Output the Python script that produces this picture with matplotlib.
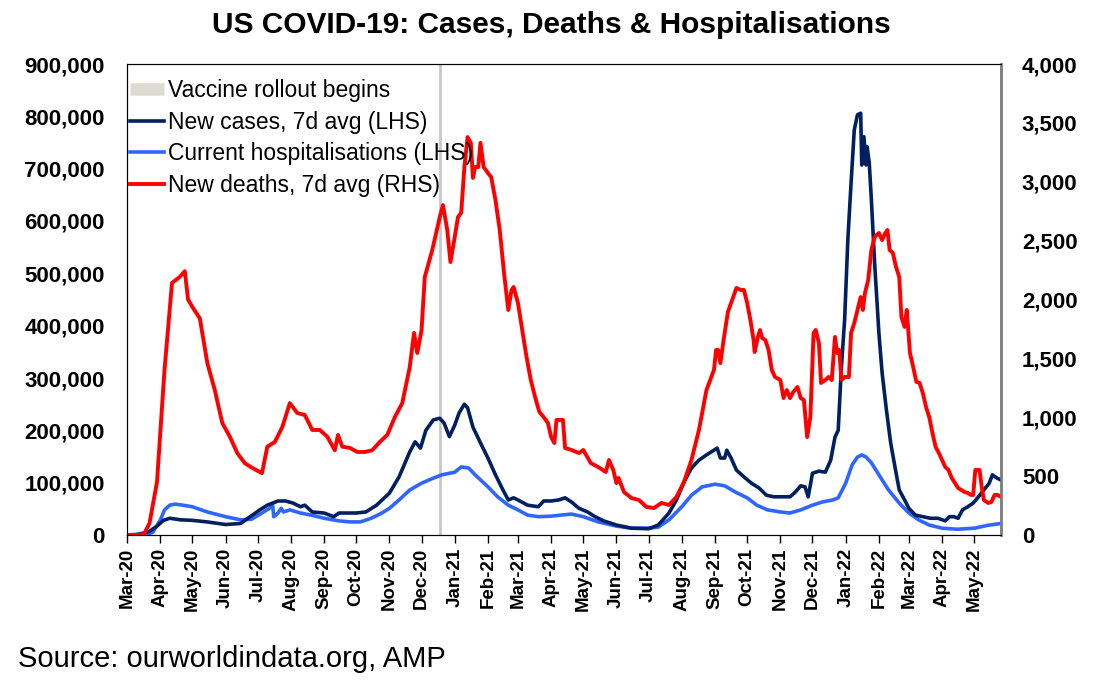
import matplotlib

matplotlib.use('Agg')
import matplotlib.pyplot as plt
import matplotlib.dates as mdates
import matplotlib.ticker as mticker
from matplotlib.lines import Line2D
import pandas as pd

plt.rcParams['font.family'] = ['Liberation Sans', 'DejaVu Sans']

# New cases, 7d avg (LHS)
case_dates = [
    '2020-03-01', '2020-03-10', '2020-03-15', '2020-03-22', '2020-03-29', '2020-04-04', '2020-04-10',
    '2020-04-20', '2020-05-01', '2020-05-15', '2020-06-01', '2020-06-15', '2020-06-26', '2020-07-03',
    '2020-07-10', '2020-07-20', '2020-07-27', '2020-08-03', '2020-08-10', '2020-08-14', '2020-08-21',
    '2020-09-01', '2020-09-10', '2020-09-15', '2020-09-20', '2020-10-01', '2020-10-10', '2020-10-20',
    '2020-11-01', '2020-11-10', '2020-11-20', '2020-11-25', '2020-11-30', '2020-12-05', '2020-12-12',
    '2020-12-18', '2020-12-22', '2020-12-27', '2021-01-01', '2021-01-05', '2021-01-10', '2021-01-13',
    '2021-01-18', '2021-01-25', '2021-02-01', '2021-02-08', '2021-02-15', '2021-02-20', '2021-02-25',
    '2021-03-01', '2021-03-10', '2021-03-20', '2021-03-25', '2021-04-01', '2021-04-08', '2021-04-14',
    '2021-04-20', '2021-04-27', '2021-05-05', '2021-05-12', '2021-05-20', '2021-06-01', '2021-06-15',
    '2021-07-01', '2021-07-10', '2021-07-20', '2021-07-27', '2021-08-03', '2021-08-10', '2021-08-17',
    '2021-08-24', '2021-08-31', '2021-09-03', '2021-09-06', '2021-09-10', '2021-09-12', '2021-09-16',
    '2021-09-21', '2021-09-28', '2021-10-05', '2021-10-12', '2021-10-19', '2021-10-26', '2021-11-01',
    '2021-11-10', '2021-11-15', '2021-11-20', '2021-11-24', '2021-11-27', '2021-12-01', '2021-12-07',
    '2021-12-13', '2021-12-18', '2021-12-22', '2021-12-25', '2021-12-28', '2021-12-31', '2022-01-03',
    '2022-01-06', '2022-01-09', '2022-01-12', '2022-01-15', '2022-01-16', '2022-01-18', '2022-01-20',
    '2022-01-21', '2022-01-23', '2022-01-25', '2022-01-28', '2022-02-01', '2022-02-04', '2022-02-08',
    '2022-02-12', '2022-02-16', '2022-02-20', '2022-02-25', '2022-03-01', '2022-03-07', '2022-03-14',
    '2022-03-21', '2022-03-28', '2022-04-04', '2022-04-08', '2022-04-12', '2022-04-16', '2022-04-20',
    '2022-04-25', '2022-04-30', '2022-05-05', '2022-05-10', '2022-05-15', '2022-05-18', '2022-05-22',
    '2022-05-26',
]
cases = [
    0, 1000, 3000, 7000, 17000, 28000, 32000,
    29000, 28000, 25000, 20000, 22000, 38000, 48000,
    57000, 65000, 65000, 61000, 54000, 57000, 44000,
    42000, 35000, 42000, 42000, 42000, 44000, 57000,
    80000, 111000, 159000, 178000, 166000, 200000, 220000,
    223000, 214000, 188000, 210000, 233000, 250000, 243000,
    206000, 176000, 147000, 115000, 86000, 67000, 71000,
    67000, 57000, 54000, 65000, 65000, 67000, 71000,
    63000, 51000, 44000, 35000, 27000, 19000, 13000,
    12000, 19000, 42000, 67000, 101000, 128000, 143000,
    153000, 162000, 166000, 147000, 147000, 162000, 147000,
    124000, 111000, 99000, 90000, 76000, 73000, 73000,
    73000, 82000, 94000, 92000, 73000, 118000, 122000,
    120000, 143000, 187000, 200000, 321000, 411000, 564000,
    672000, 774000, 803000, 806000, 707000, 761000, 707000,
    742000, 711000, 640000, 520000, 386000, 310000, 239000,
    176000, 130000, 86000, 67000, 51000, 38000, 35000,
    32000, 32000, 27000, 35000, 35000, 32000, 48000,
    54000, 61000, 73000, 86000, 99000, 115000, 109000,
    105000,
]

# Current hospitalisations (LHS)
hosp_dates = [
    '2020-03-01', '2020-03-18', '2020-03-25', '2020-04-01', '2020-04-05', '2020-04-10', '2020-04-15',
    '2020-04-22', '2020-05-01', '2020-05-15', '2020-06-01', '2020-06-15', '2020-06-25', '2020-07-05',
    '2020-07-12', '2020-07-15', '2020-07-16', '2020-07-20', '2020-07-23', '2020-07-25', '2020-07-31',
    '2020-08-10', '2020-08-20', '2020-09-01', '2020-09-15', '2020-09-25', '2020-10-05', '2020-10-15',
    '2020-10-25', '2020-11-01', '2020-11-10', '2020-11-20', '2020-12-01', '2020-12-10', '2020-12-20',
    '2021-01-01', '2021-01-07', '2021-01-14', '2021-01-20', '2021-02-01', '2021-02-10', '2021-02-20',
    '2021-03-01', '2021-03-10', '2021-03-20', '2021-04-01', '2021-04-10', '2021-04-20', '2021-05-01',
    '2021-05-15', '2021-06-01', '2021-06-15', '2021-07-01', '2021-07-10', '2021-07-20', '2021-08-01',
    '2021-08-10', '2021-08-20', '2021-09-01', '2021-09-10', '2021-09-20', '2021-10-01', '2021-10-10',
    '2021-10-20', '2021-11-01', '2021-11-10', '2021-11-20', '2021-12-01', '2021-12-10', '2021-12-20',
    '2021-12-25', '2022-01-01', '2022-01-07', '2022-01-12', '2022-01-16', '2022-01-20', '2022-01-25',
    '2022-02-01', '2022-02-10', '2022-02-20', '2022-03-01', '2022-03-10', '2022-03-20', '2022-04-01',
    '2022-04-15', '2022-05-01', '2022-05-15', '2022-05-26',
]
hosp = [
    0, 0, 5000, 28000, 48000, 57000, 59000,
    57000, 54000, 44000, 35000, 29000, 30000, 42000,
    51000, 57000, 35000, 42000, 51000, 44000, 48000,
    42000, 38000, 32000, 27000, 25000, 25000, 32000,
    42000, 51000, 67000, 86000, 99000, 107000, 115000,
    120000, 130000, 128000, 115000, 92000, 73000, 57000,
    48000, 38000, 35000, 36000, 38000, 40000, 35000,
    25000, 17000, 13000, 13000, 15000, 29000, 54000,
    76000, 92000, 97000, 94000, 82000, 71000, 57000,
    48000, 44000, 42000, 48000, 57000, 63000, 67000,
    71000, 99000, 134000, 149000, 153000, 149000, 138000,
    115000, 86000, 61000, 42000, 29000, 19000, 13000,
    11000, 13000, 19000, 22000,
]

# New deaths, 7d avg (RHS)
death_dates = [
    '2020-03-01', '2020-03-12', '2020-03-17', '2020-03-22', '2020-03-29', '2020-04-05', '2020-04-12',
    '2020-04-19', '2020-04-24', '2020-04-27', '2020-05-01', '2020-05-08', '2020-05-15', '2020-05-22',
    '2020-05-29', '2020-06-05', '2020-06-12', '2020-06-19', '2020-06-26', '2020-07-05', '2020-07-10',
    '2020-07-17', '2020-07-24', '2020-07-31', '2020-08-07', '2020-08-14', '2020-08-21', '2020-08-28',
    '2020-09-04', '2020-09-11', '2020-09-14', '2020-09-18', '2020-09-25', '2020-10-02', '2020-10-09',
    '2020-10-16', '2020-10-23', '2020-10-30', '2020-11-06', '2020-11-13', '2020-11-20', '2020-11-24',
    '2020-11-27', '2020-12-01', '2020-12-04', '2020-12-11', '2020-12-18', '2020-12-21', '2020-12-25',
    '2020-12-28', '2021-01-01', '2021-01-04', '2021-01-07', '2021-01-10', '2021-01-13', '2021-01-16',
    '2021-01-18', '2021-01-20', '2021-01-23', '2021-01-25', '2021-01-28', '2021-02-01', '2021-02-04',
    '2021-02-08', '2021-02-12', '2021-02-16', '2021-02-20', '2021-02-23', '2021-02-25', '2021-03-01',
    '2021-03-05', '2021-03-09', '2021-03-13', '2021-03-17', '2021-03-21', '2021-03-25', '2021-03-29',
    '2021-04-01', '2021-04-04', '2021-04-06', '2021-04-12', '2021-04-14', '2021-04-20', '2021-04-27',
    '2021-05-01', '2021-05-08', '2021-05-15', '2021-05-22', '2021-05-25', '2021-05-29', '2021-06-01',
    '2021-06-03', '2021-06-08', '2021-06-15', '2021-06-22', '2021-06-29', '2021-07-06', '2021-07-13',
    '2021-07-20', '2021-07-27', '2021-08-03', '2021-08-10', '2021-08-17', '2021-08-24', '2021-08-31',
    '2021-09-02', '2021-09-04', '2021-09-06', '2021-09-09', '2021-09-13', '2021-09-17', '2021-09-21',
    '2021-09-25', '2021-09-28', '2021-10-01', '2021-10-04', '2021-10-07', '2021-10-08', '2021-10-11',
    '2021-10-13', '2021-10-15', '2021-10-18', '2021-10-21', '2021-10-24', '2021-10-27', '2021-11-01',
    '2021-11-04', '2021-11-07', '2021-11-10', '2021-11-13', '2021-11-17', '2021-11-20', '2021-11-23',
    '2021-11-26', '2021-11-29', '2021-12-02', '2021-12-04', '2021-12-07', '2021-12-09', '2021-12-13',
    '2021-12-16', '2021-12-19', '2021-12-22', '2021-12-24', '2021-12-26', '2021-12-28', '2021-12-31',
    '2022-01-04', '2022-01-06', '2022-01-09', '2022-01-12', '2022-01-15', '2022-01-17', '2022-01-19',
    '2022-01-22', '2022-01-25', '2022-01-28', '2022-02-01', '2022-02-04', '2022-02-07', '2022-02-09',
    '2022-02-11', '2022-02-14', '2022-02-17', '2022-02-20', '2022-02-22', '2022-02-25', '2022-02-27',
    '2022-03-02', '2022-03-05', '2022-03-08', '2022-03-11', '2022-03-14', '2022-03-17', '2022-03-20',
    '2022-03-23', '2022-03-26', '2022-03-29', '2022-04-01', '2022-04-04', '2022-04-07', '2022-04-10',
    '2022-04-13', '2022-04-16', '2022-04-19', '2022-04-22', '2022-04-25', '2022-04-28', '2022-04-30',
    '2022-05-02', '2022-05-06', '2022-05-08', '2022-05-10', '2022-05-14', '2022-05-17', '2022-05-20',
    '2022-05-23', '2022-05-26',
]
deaths = [
    0, 0, 10, 100, 450, 1400, 2140,
    2190, 2240, 2000, 1937, 1840, 1460, 1230,
    950, 835, 695, 610, 570, 525, 750,
    790, 917, 1120, 1036, 1019, 892, 892,
    835, 720, 850, 750, 740, 705, 705,
    720, 790, 850, 1000, 1120, 1427, 1716,
    1546, 1741, 2191, 2420, 2700, 2802, 2590,
    2318, 2531, 2700, 2735, 3125, 3380, 3330,
    3032, 3125, 3125, 3330, 3125, 3074, 3040,
    2845, 2590, 2225, 1911, 2080, 2106, 1970,
    1741, 1512, 1316, 1172, 1045, 1002, 951,
    832, 781, 977, 977, 739, 722, 696,
    722, 611, 577, 535, 637, 552, 441,
    484, 365, 314, 297, 238, 229, 272,
    255, 323, 450, 637, 892, 1231, 1401,
    1571, 1571, 1460, 1656, 1894, 1996, 2098,
    2081, 2081, 1970, 1826, 1656, 1554, 1682,
    1741, 1673, 1656, 1571, 1401, 1342, 1316,
    1163, 1231, 1163, 1214, 1257, 1163, 1146,
    832, 1002, 1715, 1741, 1630, 1291, 1316,
    1342, 1316, 1682, 1546, 1571, 1316, 1342,
    1342, 1715, 1800, 1911, 2021, 1911, 2055,
    2166, 2421, 2531, 2565, 2505, 2565, 2590,
    2421, 2395, 2276, 2191, 1852, 1767, 1911,
    1546, 1427, 1300, 1291, 1206, 1087, 1002,
    866, 747, 696, 637, 577, 552, 484,
    441, 399, 382, 365, 357, 340, 340,
    552, 552, 408, 297, 272, 280, 340,
    340, 323,
]

vaccine_date = '2020-12-18'
x_start, x_end = '2020-03-01', '2022-05-26'

fig = plt.figure(figsize=(11.08, 6.9), dpi=100)
ax = fig.add_axes([127 / 1108, 1 - 535 / 690, (1001 - 127) / 1108, (535 - 64) / 690])
ax2 = ax.twinx()

ax.axvline(pd.to_datetime(vaccine_date), color='#c8c8c8', lw=2, zorder=1)
ax.plot(pd.to_datetime(case_dates), cases, color='#002060', lw=2.6, zorder=3)
ax.plot(pd.to_datetime(hosp_dates), hosp, color='#2f66ff', lw=2.6, zorder=2)
ax2.plot(pd.to_datetime(death_dates), deaths, color='#ff0000', lw=2.8)

ax.set_xlim(pd.to_datetime(x_start), pd.to_datetime(x_end))
ax.set_ylim(0, 900000)
ax2.set_ylim(0, 4000)
ax.yaxis.set_major_locator(mticker.MultipleLocator(100000))
ax2.yaxis.set_major_locator(mticker.MultipleLocator(500))
ax.yaxis.set_major_formatter(mticker.FuncFormatter(lambda v, p: f'{v:,.0f}'))
ax2.yaxis.set_major_formatter(mticker.FuncFormatter(lambda v, p: f'{v:,.0f}'))
ax.xaxis.set_major_locator(mdates.MonthLocator())
ax.xaxis.set_major_formatter(mdates.DateFormatter('%b-%y'))

ax.tick_params(axis='y', length=0, pad=16, labelsize=16)
ax2.tick_params(axis='y', length=0, pad=15, labelsize=16)
ax.tick_params(axis='x', direction='out', length=6, width=1, labelsize=13.5, pad=3)
for lab in ax.get_xticklabels():
    lab.set_rotation(90)
for lab in ax.get_xticklabels() + ax.get_yticklabels() + ax2.get_yticklabels():
    lab.set_fontweight('bold')

for a in (ax, ax2):
    a.spines['top'].set_color('black')
    a.spines['left'].set_color('black')
    a.spines['bottom'].set_color('black')
    a.spines['right'].set_color('#7f7f7f')
    a.spines['right'].set_linewidth(1.8)

handles = [
    Line2D([], [], color='#dcdcd4', lw=9, solid_capstyle='butt'),
    Line2D([], [], color='#002060', lw=2.6),
    Line2D([], [], color='#2f66ff', lw=2.6),
    Line2D([], [], color='#ff0000', lw=2.8),
]
labels = ['Vaccine rollout begins', 'New cases, 7d avg (LHS)',
          'Current hospitalisations (LHS)', 'New deaths, 7d avg (RHS)']
ax2.legend(handles, labels, loc='upper left', bbox_to_anchor=(130 / 1108, 1 - 79 / 690),
           bbox_transform=fig.transFigure, frameon=False, fontsize=16.5, borderpad=0,
           borderaxespad=0, handlelength=1.5, handletextpad=0.15, labelspacing=0.38)

fig.text(551 / 1108, 1 - 25 / 690, 'US COVID-19: Cases, Deaths & Hospitalisations',
         ha='center', va='center', fontsize=21.5, fontweight='bold')
fig.text(18 / 1108, 1 - 659 / 690, 'Source: ourworldindata.org, AMP',
         ha='left', va='center', fontsize=21)

fig.savefig('out.png', dpi=100)
